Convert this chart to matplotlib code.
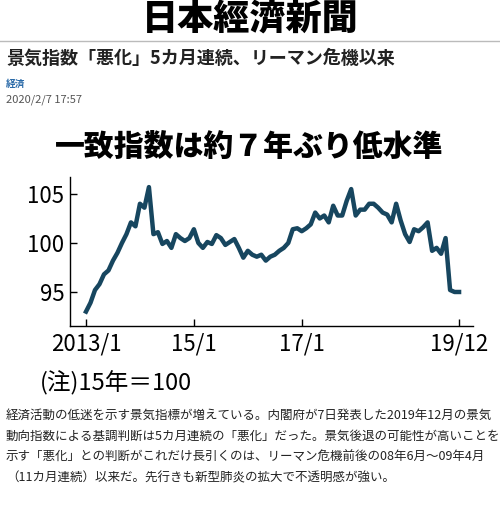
import matplotlib
matplotlib.use("Agg")
import matplotlib.pyplot as plt
import numpy as np

plt.rcParams['font.family'] = ['Noto Sans CJK JP', 'DejaVu Sans']

# coincident index, monthly 2013/1 .. 2019/12 (2015 = 100)
values = [93.0, 93.9, 95.2, 95.8, 96.8, 97.2, 98.2, 99.0, 100.0, 100.9, 102.1, 101.7,
          104.0, 103.6, 105.7, 100.9, 101.1, 99.9, 100.2, 99.5, 100.9, 100.5, 100.2, 100.5,
          101.4, 100.0, 99.5, 100.1, 99.9, 100.8, 100.5, 99.8, 100.1, 100.4, 99.5, 98.5,
          99.2, 98.8, 98.6, 98.8, 98.2, 98.6, 98.8, 99.2, 99.5, 100.0, 101.4, 101.5,
          101.2, 101.5, 101.9, 103.1, 102.5, 102.8, 102.1, 103.8, 102.8, 102.8, 104.3, 105.5,
          102.8, 103.4, 103.4, 104.0, 104.0, 103.6, 103.1, 102.9, 102.1, 104.0, 102.3, 100.9,
          100.1, 101.4, 101.2, 101.6, 102.1, 99.2, 99.5, 98.9, 100.5, 95.2, 95.0, 95.0]
tick_pos = [0, 24, 48, 83]
tick_labels = ["2013/1", "15/1", "17/1", "19/12"]
y_ticks = [95, 100, 105]

body = ["経済活動の低迷を示す景気指標が増えている。内閣府が7日発表した2019年12月の景気",
        "動向指数による基調判断は5カ月連続の「悪化」だった。景気後退の可能性が高いことを",
        "示す「悪化」との判断がこれだけ長引くのは、リーマン危機前後の08年6月～09年4月",
        "（11カ月連続）以来だ。先行きも新型肺炎の拡大で不透明感が強い。"]

W, H = 500, 516
fig = plt.figure(figsize=(W / 100, H / 100), dpi=100)
fig.patch.set_facecolor("white")


def T(x, y, s, **kw):
    fig.text(x / W, 1 - y / H, s, **kw)


T(250, 19, "日本經濟新聞", ha="center", va="center", fontsize=26, fontweight="black")
fig.add_artist(plt.Line2D([0, 1], [1 - 41 / H] * 2, color="#bbbbbb", lw=1))
T(6, 58, "景気指数「悪化」5カ月連続、リーマン危機以来", ha="left", va="center",
  fontsize=13, fontweight="bold", color="#222222")
T(6, 84, "経済", ha="left", va="center", fontsize=7, color="#2a6aa8", fontweight="bold")
T(6, 100, "2020/2/7 17:57", ha="left", va="center", fontsize=8, color="#555555")
T(249, 147, "一致指数は約７年ぶり低水準", ha="center", va="center",
  fontsize=21.5, fontweight="black")
T(40, 383, "(注)15年＝100", ha="left", va="center", fontsize=17)
for i, line in enumerate(body):
    T(6, 415 + i * 21, line, ha="left", va="center", fontsize=9, color="#222222")

ax = fig.add_axes([70 / W, 1 - 326 / H, (473 - 70) / W, (326 - 177) / H])
ax.plot(np.arange(len(values)), values, color="#17465f", lw=3.2, solid_joinstyle="round")
ax.set_xlim(-3.56, 86.1)
ax.set_ylim(91.53, 106.73)
ax.set_xticks(tick_pos)
ax.set_xticklabels(tick_labels, fontsize=16)
ax.set_yticks(y_ticks)
ax.set_yticklabels([str(v) for v in y_ticks], fontsize=16)
ax.tick_params(direction="in", length=5, width=1, pad=4)
ax.tick_params(axis="x", pad=5)
for s in ("top", "right"):
    ax.spines[s].set_visible(False)
for s in ("left", "bottom"):
    ax.spines[s].set_linewidth(1)

fig.savefig("out.png", dpi=100)
